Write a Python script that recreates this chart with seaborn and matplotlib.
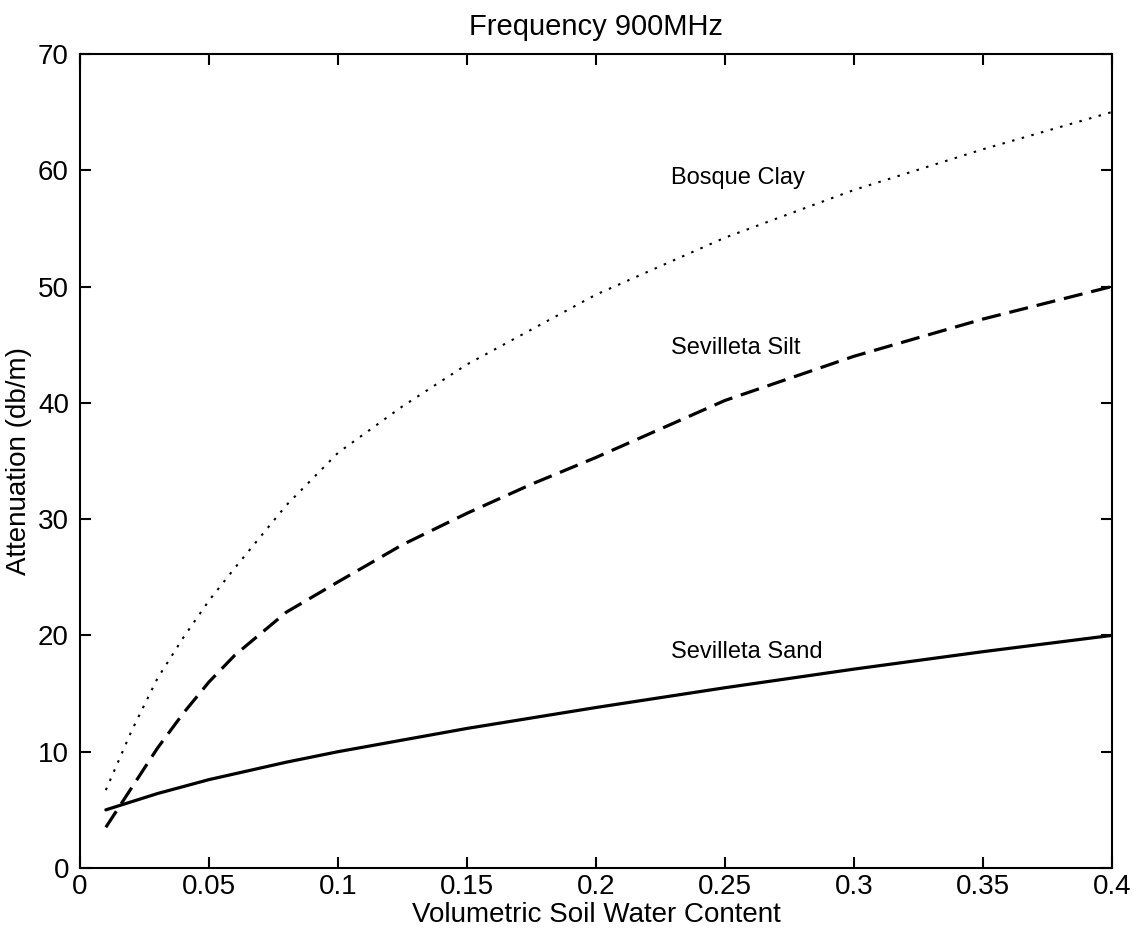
# Attenuation vs volumetric soil water content at 900 MHz

import matplotlib
matplotlib.use("Agg")
import matplotlib.pyplot as plt
import seaborn as sns
import pandas as pd

water_content = [0.01, 0.02, 0.03, 0.04, 0.05, 0.06, 0.08, 0.10, 0.125,
                 0.15, 0.175, 0.20, 0.25, 0.30, 0.35, 0.40]
sand = [5.0, 5.7, 6.4, 7.0, 7.6, 8.1, 9.1, 10.0, 11.0,
        12.0, 12.9, 13.8, 15.5, 17.1, 18.6, 20.0]
silt = [3.5, 6.9, 10.3, 13.3, 16.0, 18.3, 22.0, 24.6, 27.8,
        30.5, 33.0, 35.3, 40.2, 44.0, 47.2, 50.0]
clay = [6.7, 11.8, 16.3, 19.8, 23.0, 25.8, 31.2, 35.7, 39.7,
        43.3, 46.3, 49.3, 54.2, 58.3, 61.8, 65.0]

soil_names = ["Bosque Clay", "Sevilleta Silt", "Sevilleta Sand"]
label_x = [0.229, 0.229, 0.229]
label_y = [59.3, 44.7, 18.6]

x_ticks = [0, 0.05, 0.1, 0.15, 0.2, 0.25, 0.3, 0.35, 0.4]
x_tick_labels = ["0", "0.05", "0.1", "0.15", "0.2", "0.25", "0.3", "0.35", "0.4"]
y_ticks = [0, 10, 20, 30, 40, 50, 60, 70]

sns.set_style("ticks")
plt.rcParams["font.family"] = ["Liberation Sans", "DejaVu Sans"]
plt.rcParams["text.color"] = "black"
plt.rcParams["axes.labelcolor"] = "black"

df = pd.DataFrame({"theta": water_content, "sand": sand, "silt": silt, "clay": clay})

fig = plt.figure(figsize=(11.37, 9.4), dpi=100)
ax = fig.add_axes([0.0704, 0.0766, 0.9074, 0.8660])

sns.lineplot(data=df, x="theta", y="clay", ax=ax, color="black",
             linewidth=1.5, linestyle=(0, (1.2, 3.6)))
sns.lineplot(data=df, x="theta", y="silt", ax=ax, color="black",
             linewidth=2.3, linestyle=(0, (6, 2.8)))
sns.lineplot(data=df, x="theta", y="sand", ax=ax, color="black",
             linewidth=2.3, linestyle="-")

for name, lx, ly in zip(soil_names, label_x, label_y):
    ax.text(lx, ly, name, fontsize=17, va="center", ha="left", color="black")

ax.set_xlim(0, 0.4)
ax.set_ylim(0, 70)
ax.set_xticks(x_ticks)
ax.set_xticklabels(x_tick_labels)
ax.set_yticks(y_ticks)

for side in ["top", "right", "bottom", "left"]:
    ax.spines[side].set_visible(True)
    ax.spines[side].set_linewidth(1.5)
    ax.spines[side].set_color("black")

ax.tick_params(axis="both", direction="in", length=8, width=1.5,
               top=True, right=True, labelsize=20, colors="black")
ax.tick_params(axis="x", pad=4)
ax.tick_params(axis="y", pad=8)

ax.set_title("Frequency 900MHz", fontsize=21, pad=14, color="black")
ax.set_xlabel("Volumetric Soil Water Content", fontsize=20, labelpad=2)
ax.set_ylabel("Attenuation (db/m)", fontsize=20, labelpad=4)

fig.savefig("out.png", dpi=100, facecolor="white")
